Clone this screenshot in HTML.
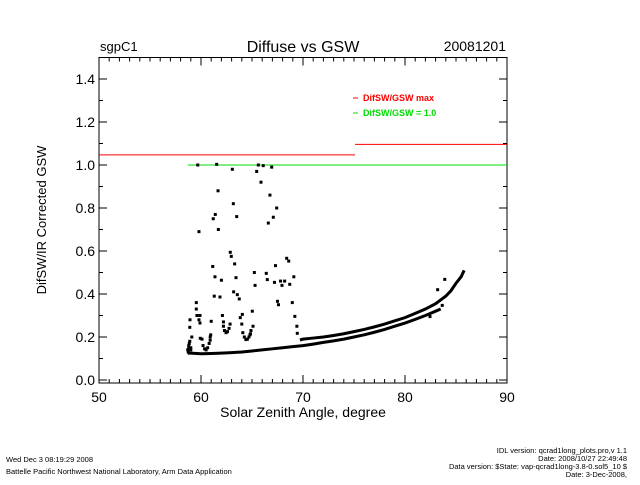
<!DOCTYPE html>
<html><head><meta charset="utf-8"><style>
body{margin:0;background:#fff;width:640px;height:480px;overflow:hidden;font-family:"Liberation Sans",sans-serif}
svg text{font-family:"Liberation Sans",sans-serif}
</style></head><body>
<svg id="chart" width="640" height="480" xmlns="http://www.w3.org/2000/svg">
<text x="100" y="51" font-size="13">sgpC1</text>
<text x="303" y="52" font-size="16" text-anchor="middle">Diffuse vs GSW</text>
<text x="506" y="51" font-size="14" text-anchor="end">20081201</text>
<text x="303" y="417" font-size="14" text-anchor="middle">Solar Zenith Angle, degree</text>
<text transform="translate(46,220) rotate(-90)" font-size="13" text-anchor="middle">DifSW/IR Corrected GSW</text>
<g>
<line x1="353" y1="98" x2="358" y2="98" stroke="#f00"/>
<text x="363" y="101" font-size="9" fill="#f00" font-weight="bold">DifSW/GSW max</text>
<line x1="353" y1="113" x2="358" y2="113" stroke="#0d0"/>
<text x="363" y="116" font-size="9" fill="#0d0" font-weight="bold">DifSW/GSW = 1.0</text>
</g>
<g font-size="7.5">
<text x="6" y="462">Wed Dec  3 08:19:29 2008</text>
<text x="6" y="474">Battelle Pacific Northwest National Laboratory, Arm Data Application</text>
<text x="627" y="453" text-anchor="end">IDL version: qcrad1long_plots.pro,v 1.1</text>
<text x="627" y="461" text-anchor="end">Date: 2008/10/27 22:49:48</text>
<text x="627" y="469" text-anchor="end">Data version: $State: vap-qcrad1long-3.8-0.sol5_10 $</text>
<text x="627" y="477" text-anchor="end">Date: 3-Dec-2008,</text>
</g>
</svg>
<script>
const xTicks=[50,60,70,80,90];
const yTicks=[0.0,0.2,0.4,0.6,0.8,1.0,1.2,1.4];
const maxSeg1X=[50,75.1];
const maxSeg1Y=[1.047,1.047];
const maxSeg2X=[75.1,90];
const maxSeg2Y=[1.096,1.096];
const oneStartX=58.7;
const lowerX=[58.7,59,60,61,62,63,64,65,66,67,68,69,70,71,72,73,74,75,76,77,78,79,80,81,82,82.5,83,83.5];
const lowerY=[0.125,0.125,0.122,0.123,0.125,0.127,0.13,0.135,0.14,0.145,0.15,0.155,0.16,0.167,0.175,0.182,0.19,0.2,0.21,0.222,0.235,0.25,0.265,0.282,0.3,0.31,0.32,0.33];
const upperX=[69.7,70,71,72,73,74,75,76,77,78,79,80,81,82,83,84,84.5,85,85.5,85.8];
const upperY=[0.186,0.19,0.195,0.2,0.207,0.215,0.225,0.235,0.247,0.26,0.275,0.29,0.31,0.33,0.355,0.39,0.415,0.45,0.48,0.51];
const scatX=[59.68,61.54,63.07,65.62,66.1,66.93,65.46,65.88,61.67,66.76,63.17,67.42,61.4,61.2,63.5,67.09,66.6,61.7,59.8,62.87,62.97,63.3,68.4,68.6,61.15,67.3,61.37,63.43,65.23,66.4,66.5,62,67.2,67.8,68.2,67.94,68.7,69.1,65.3,63.2,63.56,63.75,61.3,61.86,59.54,67.5,67.6,68.95,59.54,59.6,59.9,65.03,62.1,64.05,63.85,69.2,58.92,59.8,59.9,61.0,62.2,64.0,65.1,69.4,58.9,64.9,64.8,60.95,60.9,59.93,69.44,83.9,83.2,83.65,82.45,
60.1,60.2,60.35,60.5,60.65,60.8,60.9,62.2,62.3,62.45,62.6,62.75,62.85,64.1,64.25,64.4,64.55,64.7,64.85,58.7,58.8,58.9,59.0,59.1,58.75,58.85,59.0,58.8];
const scatY=[1.0,1.003,0.98,1.0,0.997,0.99,0.97,0.92,0.88,0.86,0.82,0.8,0.77,0.75,0.76,0.757,0.73,0.7,0.69,0.594,0.575,0.54,0.566,0.553,0.528,0.532,0.48,0.476,0.5,0.496,0.467,0.464,0.454,0.46,0.46,0.44,0.445,0.48,0.44,0.41,0.397,0.377,0.39,0.386,0.36,0.366,0.35,0.36,0.33,0.3,0.3,0.32,0.3,0.305,0.29,0.296,0.28,0.28,0.265,0.273,0.27,0.26,0.25,0.25,0.245,0.23,0.21,0.21,0.185,0.194,0.217,0.468,0.42,0.347,0.295,
0.19,0.16,0.145,0.14,0.15,0.17,0.2,0.25,0.23,0.22,0.225,0.24,0.26,0.22,0.2,0.188,0.19,0.2,0.215,0.14,0.16,0.18,0.15,0.2,0.13,0.17,0.14,0.15];
const X0=50,X1=90,PX0=99,PX1=507,Y0=-0.014,Y1=1.5,PY0=383,PY1=57.5;
const sx=v=>PX0+(v-X0)*(PX1-PX0)/(X1-X0);
const sy=v=>PY0-(v-Y0)*(PY0-PY1)/(Y1-Y0);
const svg=document.getElementById('chart');
const NS='http://www.w3.org/2000/svg';
function mk(t,a){const e=document.createElementNS(NS,t);for(const k in a)e.setAttribute(k,a[k]);svg.appendChild(e);return e;}
const frame=mk('rect',{x:PX0,y:PY1,width:PX1-PX0,height:PY0-PY1,fill:'none',stroke:'#000'});


for(let v=X0;v<=X1;v+=1){const L=(v%10===0)?8:4;
 const t=mk('path',{d:`M${sx(v)},${PY0}v${-L}M${sx(v)},${PY1}v${L}`,stroke:'#000'});
 
 }
for(let i=0;i<=15;i++){const v=i*0.1;const L=(i%2===0)?8:4;
 const t=mk('path',{d:`M${PX0},${sy(v)}h${L}M${PX1},${sy(v)}h${-L}`,stroke:'#000'});
 
 }
xTicks.forEach(v=>{const t=mk('text',{x:sx(v),y:PY0+19,'font-size':14,'text-anchor':'middle'});t.textContent=v;
 
 });
yTicks.forEach(v=>{const t=mk('text',{x:PX0-4,y:sy(v)+5,'font-size':14,'text-anchor':'end'});t.textContent=v.toFixed(1);
 
 });
function seg(xs,ys,color,name){const p=mk('polyline',{points:xs.map((v,i)=>sx(v)+','+sy(ys[i])).join(' '),fill:'none',stroke:color});
 
 }
seg(maxSeg1X,maxSeg1Y,'#f00','max-ratio-line-left');
seg(maxSeg2X,maxSeg2Y,'#f00','max-ratio-line-right');
const one=mk('line',{x1:sx(oneStartX),x2:sx(X1),y1:sy(1),y2:sy(1),stroke:'#0d0'});


function band(xs,ys,name){const p=mk('polyline',{points:xs.map((v,i)=>sx(v)+','+sy(ys[i])).join(' '),fill:'none',stroke:'#000','stroke-width':3});
 
 }
band(lowerX,lowerY,'lower-branch');
band(upperX,upperY,'upper-branch');
scatX.forEach((v,i)=>{const r=mk('rect',{x:sx(v)-1.5,y:sy(scatY[i])-1.5,width:3,height:3,fill:'#000'});
 
 });
</script>
</body></html>
